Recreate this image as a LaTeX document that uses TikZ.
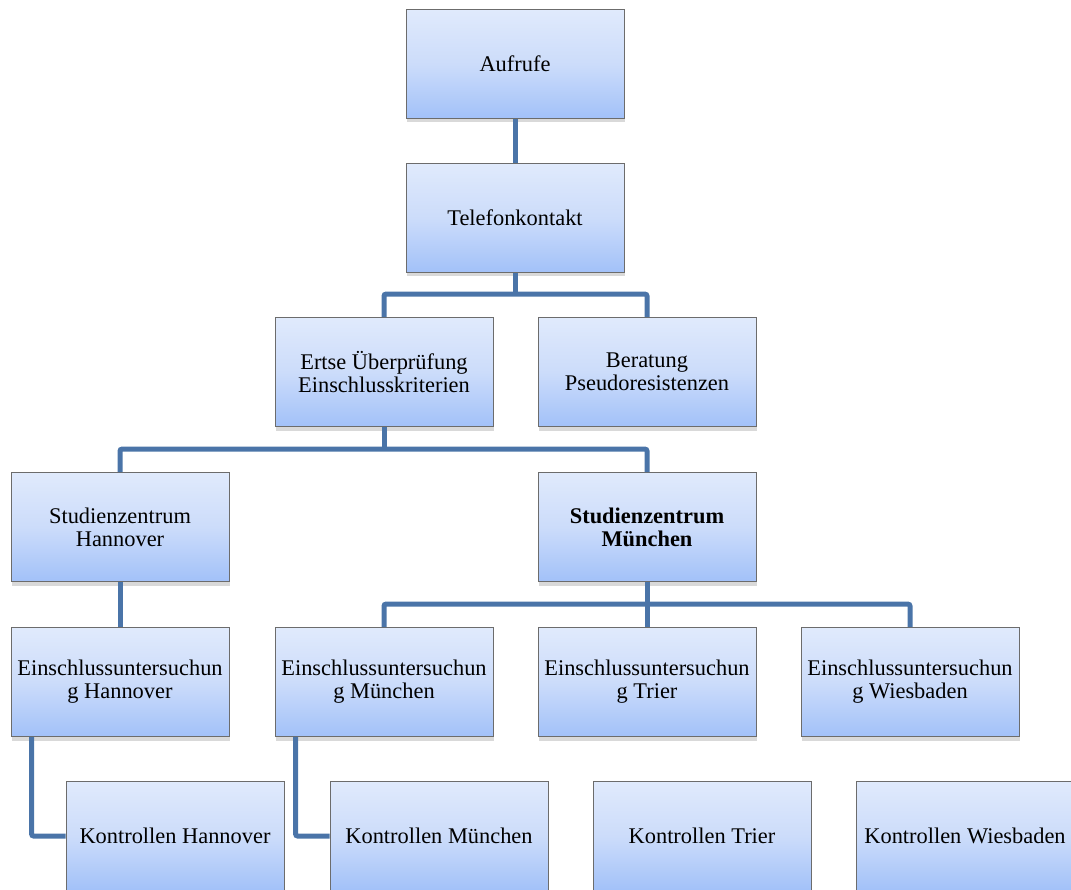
\documentclass[tikz,border=0pt]{standalone}
\usepackage{fontspec}
\setmainfont{Liberation Serif}
\usetikzlibrary{shadows}
\definecolor{boxtop}{HTML}{E0EAFC}
\definecolor{boxmid}{HTML}{CCDCFA}
\definecolor{boxbot}{HTML}{A2C1F9}
\definecolor{linkblue}{HTML}{4A74A8}
\begin{document}
\begin{tikzpicture}
  [x=1pt,y=-1pt,
  stage/.style={draw=gray!85!black, line width=0.8pt,
    top color=boxtop, bottom color=boxbot, middle color=boxmid,
    minimum width=218pt, minimum height=109pt, align=center,
    font=\fontsize{22.4}{23}\selectfont,
    drop shadow={opacity=0.3, shadow xshift=1pt, shadow yshift=-4pt}},
  link/.style={draw=linkblue, line width=5pt, rounded corners=2pt}]
  \clip (0,0) rectangle (1071,890);
  \node[stage] (aufrufe) at (515,64) {Aufrufe};
  \node[stage] (telefon) at (515,218) {Telefonkontakt};
  \node[stage] (pruefung) at (384,372) {Ertse Überprüfung\\Einschlusskriterien};
  \node[stage] (beratung) at (647,372) {Beratung\\Pseudoresistenzen};
  \node[stage] (szhannover) at (120,527) {Studienzentrum\\Hannover};
  \node[stage, font=\fontsize{22.4}{23}\selectfont\bfseries] (szmuenchen) at (647,527) {Studienzentrum\\München};
  \node[stage] (ehannover) at (120,682) {Einschlussuntersuchun\\g Hannover};
  \node[stage] (emuenchen) at (384,682) {Einschlussuntersuchun\\g München};
  \node[stage] (etrier) at (647,682) {Einschlussuntersuchun\\g Trier};
  \node[stage] (ewiesbaden) at (910,682) {Einschlussuntersuchun\\g Wiesbaden};
  \node[stage] (khannover) at (175,836) {Kontrollen Hannover};
  \node[stage] (kmuenchen) at (439,836) {Kontrollen München};
  \node[stage] (ktrier) at (702,836) {Kontrollen Trier};
  \node[stage] (kwiesbaden) at (965,836) {Kontrollen Wiesbaden};

  \draw[link] (aufrufe) -- (telefon);
  \draw[link] (telefon.south) -- ++(0,23);
  \draw[link] (pruefung.north) -- ++(0,-23) -| (beratung.north);
  \draw[link] (pruefung.south) -- ++(0,23);
  \draw[link] (szhannover.north) -- ++(0,-23) -| (szmuenchen.north);
  \draw[link] (szmuenchen) -- (etrier);
  \draw[link] (emuenchen.north) -- ++(0,-23) -| (ewiesbaden.north);
  \draw[link] (szhannover) -- (ehannover);
  \draw[link] ([xshift=21pt]ehannover.south west) |- (khannover.west);
  \draw[link] ([xshift=21pt]emuenchen.south west) |- (kmuenchen.west);
\end{tikzpicture}
\end{document}
